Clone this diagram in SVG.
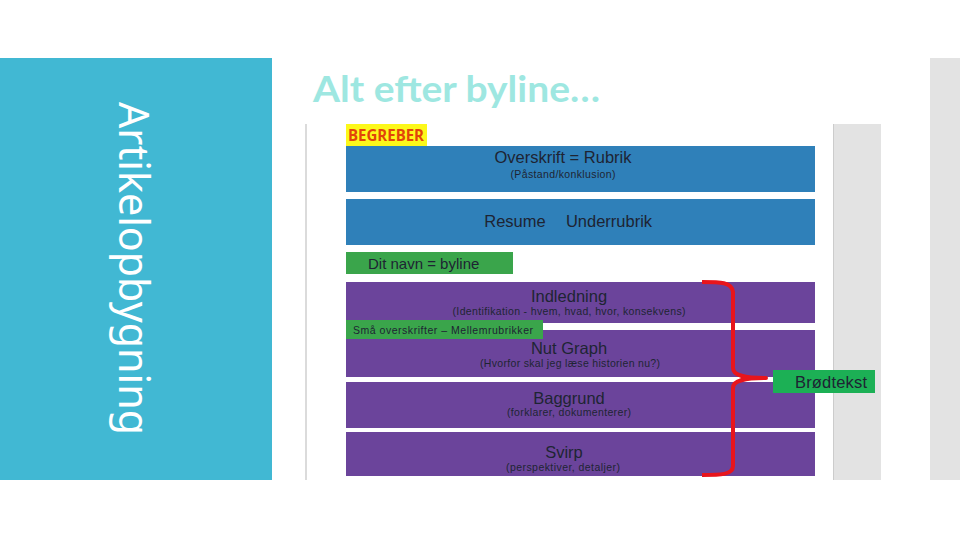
<svg xmlns="http://www.w3.org/2000/svg" width="960" height="540" viewBox="0 0 960 540">
<style>
.main{font-family:"Liberation Sans",Arial,sans-serif;font-size:16.5px;fill:#1e2433;text-anchor:middle}
.sub{font-family:"Liberation Sans",Arial,sans-serif;font-size:10.5px;fill:#1e2433;text-anchor:middle}
.blue{fill:#2f80b9}
.purple{fill:#6b449b}
.green{fill:#3aa54b}
</style>
<rect width="960" height="540" fill="#ffffff"/>
<rect id="sidepanel" x="0" y="58" width="272" height="422" fill="#41b8d3"/>
<text transform="translate(119,102) rotate(90)" font-family="'Noto Sans','Open Sans',sans-serif" font-weight="400" font-size="42" fill="#ffffff" textLength="333" lengthAdjust="spacingAndGlyphs">Artikelopbygning</text>
<rect x="930" y="58" width="30" height="422" fill="#e3e3e3"/>
<text x="313" y="102" font-family="Lato,'Open Sans',sans-serif" font-weight="bold" font-size="36" fill="#9ee7e1" textLength="287" lengthAdjust="spacingAndGlyphs">Alt efter byline…</text>
<line x1="306" y1="124" x2="306" y2="480" stroke="#cfcfcf" stroke-width="1.5"/>
<rect x="833" y="124" width="48" height="356" fill="#e3e3e3"/>
<line x1="833.5" y1="124" x2="833.5" y2="480" stroke="#cccccc" stroke-width="1"/>

<g id="begreber">
<rect x="346" y="124" width="81" height="22" fill="#fcf81a"/>
<text x="348" y="141" font-family="'Open Sans','Liberation Sans',sans-serif" font-weight="bold" font-size="16" fill="#e2440a" textLength="76" lengthAdjust="spacingAndGlyphs">BEGREBER</text>
</g>
<g id="overskrift">
<rect class="blue" x="346" y="146" width="469" height="46"/>
<text class="main" x="563" y="163">Overskrift = Rubrik</text>
<text class="sub" x="563" y="178" textLength="105">(Påstand/konklusion)</text>
</g>
<g id="resume">
<rect class="blue" x="346" y="199" width="469" height="46"/>
<text class="main" x="515" y="227">Resume</text>
<text class="main" x="609" y="227">Underrubrik</text>
</g>
<g id="byline">
<rect class="green" x="346" y="252" width="167" height="22"/>
<text x="368" y="269" font-family="'Liberation Sans',Arial,sans-serif" font-size="15" fill="#1e2433">Dit navn = byline</text>
</g>
<g id="indledning">
<rect class="purple" x="346" y="282" width="469" height="41"/>
<text class="main" x="569" y="302">Indledning</text>
<text class="sub" x="569" y="315" textLength="233">(Identifikation - hvem, hvad, hvor, konsekvens)</text>
</g>
<g id="nutgraph">
<rect class="purple" x="346" y="330" width="469" height="47"/>
<text class="main" x="569" y="354">Nut Graph</text>
<text class="sub" x="570" y="367" textLength="180">(Hvorfor skal jeg læse historien nu?)</text>
</g>
<g id="mellemrubrikker">
<rect class="green" x="346" y="320" width="197" height="19"/>
<text x="353" y="334" font-family="'Liberation Sans',Arial,sans-serif" font-size="10.5" fill="#1e2433" textLength="180">Små overskrifter – Mellemrubrikker</text>
</g>
<g id="baggrund">
<rect class="purple" x="346" y="382" width="469" height="46"/>
<text class="main" x="569" y="404">Baggrund</text>
<text class="sub" x="569" y="416" textLength="124">(forklarer, dokumenterer)</text>
</g>
<g id="svirp">
<rect class="purple" x="346" y="432" width="469" height="44"/>
<text class="main" x="564" y="458">Svirp</text>
<text class="sub" x="563" y="471" textLength="114">(perspektiver, detaljer)</text>
</g>
<g id="brodtekst">
<rect x="773" y="370" width="102" height="23" fill="#1cb055"/>
<text x="795" y="388" font-family="'Liberation Sans',Arial,sans-serif" font-size="16.5" fill="#1e2433" textLength="72">Brødtekst</text>
</g>
<g id="connectors">
<path d="M702,282 C720,282 732,282 733,292 L733,368 C733,376 745,378 766,378 C745,378 733,380 733,388 L733,466 C733,475 720,475 702,475" fill="none" stroke="#e8151c" stroke-width="4" stroke-linejoin="round"/>
</g>
</svg>
